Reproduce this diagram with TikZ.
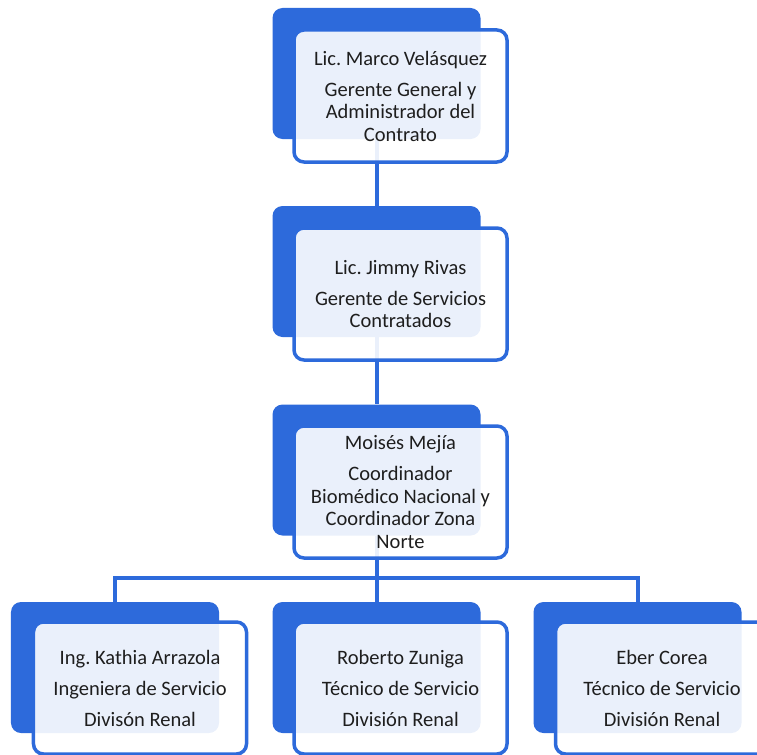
\documentclass[tikz,border=0pt]{standalone}
\usepackage{fontspec}
\setmainfont{Carlito}
\frenchspacing
\definecolor{orgblue}{RGB}{45,106,219}
\definecolor{txt}{RGB}{30,30,30}
\begin{document}
\begin{tikzpicture}[x=1bp,y=-1bp,
  backbox/.style={fill=orgblue, draw=none, rounded corners=10bp, minimum width=208bp, minimum height=131bp, inner sep=0pt},
  frontbox/.style={fill=white, fill opacity=0.9, text opacity=1, draw=orgblue, draw opacity=1, line width=3.5bp, rounded corners=10bp, minimum width=213bp, minimum height=132bp, inner sep=1bp, align=center, text=txt, font=\fontsize{20.5bp}{22.5bp}\selectfont},
  conn/.style={draw=orgblue, line width=4bp}]
\clip (0,0) rectangle (757,755);
% back boxes
\node[backbox] (b1) at (376.5,73.5) {};
\node[backbox] (b2) at (376.5,271.5) {};
\node[backbox] (b3) at (376.5,470) {};
\node[backbox] (b4) at (115,667.5) {};
\node[backbox] (b5) at (376.5,667.5) {};
\node[backbox] (b6) at (637.5,667.5) {};
% connectors
\coordinate (bar) at (376.5,578);
\draw[conn] (b1.south) -- (b2.north);
\draw[conn] (b2.south) -- (b3.north);
\draw[conn] (b3.south) -- (bar);
\draw[conn] (b4.north) -- (b4.north |- bar) -- (b6.north |- bar) -- (b6.north);
\draw[conn] (bar) -- (b5.north);
% front boxes
\node[frontbox] (f1) at (400.5,96) {Lic. Marco Velásquez\\[8.5bp]Gerente General y\\Administrador del\\Contrato};
\node[frontbox] (f2) at (400.5,294) {Lic. Jimmy Rivas\\[8.5bp]Gerente de Servicios\\Contratados};
\node[frontbox] (f3) at (400.5,492) {Moisés Mejía\\[8.5bp]Coordinador\\Biomédico Nacional y\\Coordinador Zona\\Norte};
\node[frontbox] (f4) at (140,688) {Ing. Kathia Arrazola\\[8.5bp]Ingeniera de Servicio\\[8.5bp]Divisón Renal};
\node[frontbox] (f5) at (400.5,688) {Roberto Zuniga\\[8.5bp]Técnico de Servicio\\[8.5bp]División Renal};
\node[frontbox] (f6) at (662,688) {Eber Corea\\[8.5bp]Técnico de Servicio\\[8.5bp]División Renal};
\end{tikzpicture}
\end{document}
